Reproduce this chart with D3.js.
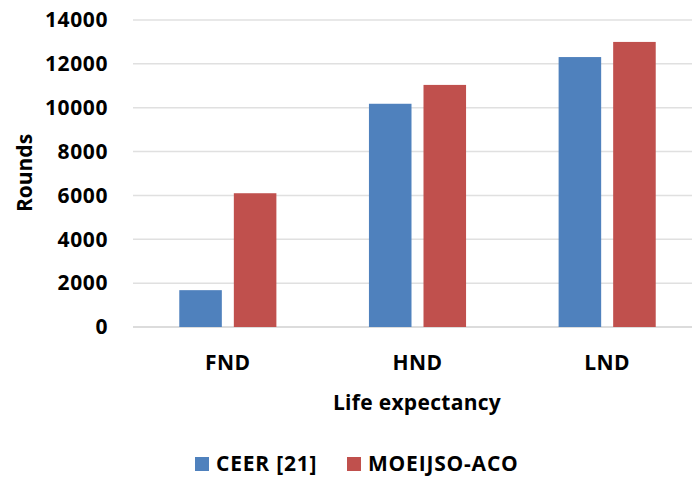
<!DOCTYPE html>
<html>
<head>
<meta charset="utf-8">
<script src="https://cdn.jsdelivr.net/npm/d3@7"></script>
<style>
    body { margin: 0; background: #fff; }
    text { font-family: "Open Sans", "Liberation Sans", sans-serif; font-weight: bold; fill: #000; }
</style>
</head>
<body>
<svg id="chart" width="692" height="477"></svg>
<script>
// chart data
const categories = ["FND", "HND", "LND"];
const seriesNames = ["CEER [21]", "MOEIJSO-ACO"];
const ceer = [1680, 10180, 12310];
const moeijso = [6100, 11040, 13000];
const yTicks = [0, 2000, 4000, 6000, 8000, 10000, 12000, 14000];
const colors = ["#4F81BD", "#C0504D"];

const svg = d3.select("#chart");

const plotLeft = 133, plotRight = 702, plotTop = 20, plotBottom = 327;

const x0 = d3.scaleBand()
    .domain(categories)
    .range([plotLeft, plotRight])
    .paddingInner(0.488)
    .paddingOuter(0.244);

const x1 = d3.scaleBand()
    .domain(seriesNames)
    .range([0, x0.bandwidth()])
    .paddingInner(0.22);

const y = d3.scaleLinear()
    .domain([0, 14000])
    .range([plotBottom, plotTop]);

// gridlines
svg.append("g")
    .selectAll("line")
    .data(yTicks)
    .enter()
    .append("line")
    .attr("x1", plotLeft)
    .attr("x2", 692)
    .attr("y1", d => y(d))
    .attr("y2", d => y(d))
    .attr("stroke", d => d === 0 ? "#d0d0d0" : "#e0e0e0")
    .attr("stroke-width", 1.5);

// y axis labels
const yAxis = d3.axisLeft(y).tickValues(yTicks).tickFormat(d3.format("d")).tickSize(0).tickPadding(0);
const yg = svg.append("g")
    .attr("transform", "translate(108,0)")
    .call(yAxis);
yg.select(".domain").remove();
yg.selectAll("text")
    .attr("font-size", 21)
    .attr("font-family", "'Open Sans', sans-serif")
    .attr("font-weight", "bold")
    .attr("fill", "#000")
    .attr("letter-spacing", 0.6);

// bars
const table = categories.map((c, i) => ({ category: c, values: [ceer[i], moeijso[i]] }));

const groups = svg.append("g")
    .selectAll("g")
    .data(table)
    .enter()
    .append("g")
    .attr("transform", d => "translate(" + x0(d.category) + ",0)");

groups.selectAll("rect")
    .data(d => d.values.map((v, i) => ({ name: seriesNames[i], value: v, i: i })))
    .enter()
    .append("rect")
    .attr("x", d => x1(d.name))
    .attr("width", x1.bandwidth())
    .attr("y", d => y(d.value))
    .attr("height", d => y(0) - y(d.value))
    .attr("fill", d => colors[d.i]);

// category labels
svg.append("g")
    .selectAll("text")
    .data(categories)
    .enter()
    .append("text")
    .attr("x", d => x0(d) + x0.bandwidth() / 2)
    .attr("y", 370)
    .attr("text-anchor", "middle")
    .attr("font-size", 21)
    .attr("letter-spacing", 0.5)
    .text(d => d);

// axis titles
svg.append("text")
    .attr("x", 417)
    .attr("y", 410)
    .attr("text-anchor", "middle")
    .attr("font-size", 21)
    .attr("letter-spacing", 0.3)
    .text("Life expectancy");

svg.append("text")
    .attr("transform", "translate(32,173) rotate(-90)")
    .attr("text-anchor", "middle")
    .attr("font-size", 21)
    .text("Rounds");

// legend
const legendX = [195, 347];
const legend = svg.append("g")
    .selectAll("g")
    .data(seriesNames)
    .enter()
    .append("g")
    .attr("transform", (d, i) => "translate(" + legendX[i] + ",457)");

legend.append("rect")
    .attr("width", 14)
    .attr("height", 14)
    .attr("fill", (d, i) => colors[i]);

legend.append("text")
    .attr("x", 21)
    .attr("y", 14)
    .attr("font-size", 21)
    .attr("letter-spacing", 0.8)
    .text(d => d);
</script>
</body>
</html>
